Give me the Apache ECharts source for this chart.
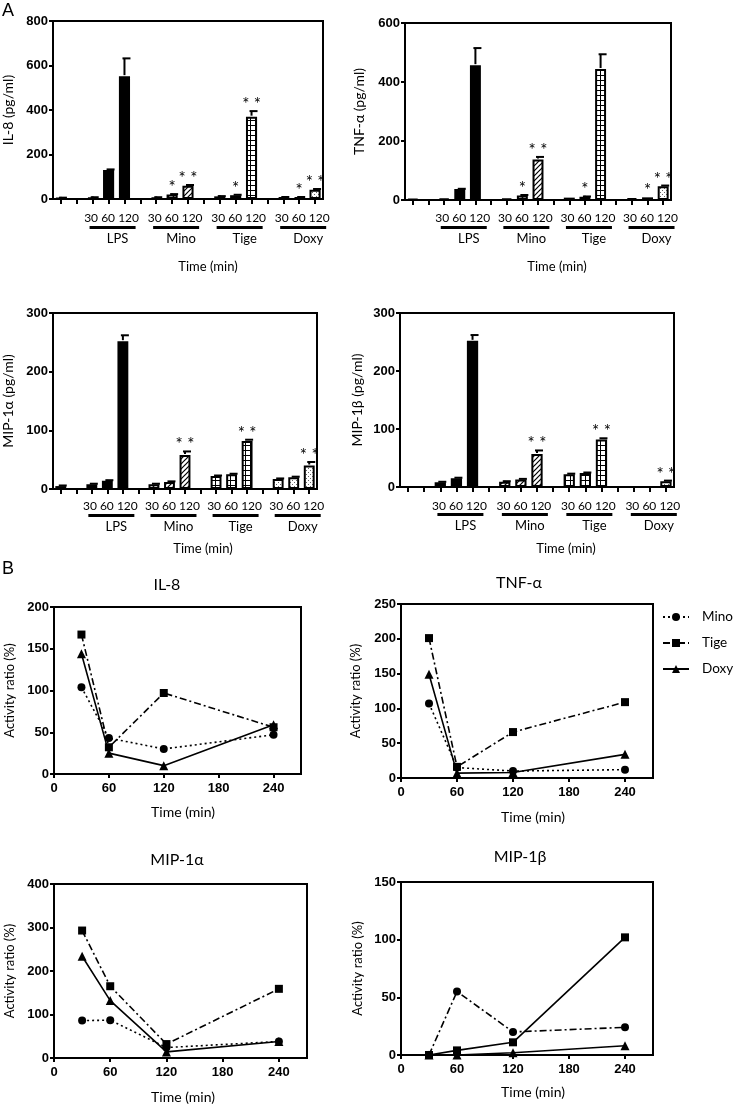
<!DOCTYPE html>
<html><head><meta charset="utf-8">
<script src="https://cdn.jsdelivr.net/npm/echarts@6/dist/echarts.min.js"></script>
<style>html,body{margin:0;padding:0;background:#fff}#c{width:734px;height:1104px}</style>
</head><body><div id="c"></div>
<script>
// ---------- Panel A: bar charts ----------
const categories = ['Ctrl','gap1','LPS-30','LPS-60','LPS-120','gap2','Mino-30','Mino-60','Mino-120','gap3','Tige-30','Tige-60','Tige-120','gap4','Doxy-30','Doxy-60','Doxy-120'];
const timeLabelRow = '30 60 120';
const groupLabels = ['','','','LPS','','','','Mino','','','','Tige','','','','Doxy',''];
const fillKinds = ['solid','','solid','solid','solid','','hatch','hatch','hatch','','grid','grid','grid','','dots','dots','dots'];

const il8Values = [5, null, 7, 130, 552, null, 7, 20, 60, null, 12, 17, 370, null, 8, 8, 42];
const il8Errors = [1, 0, 1, 3, 80, 0, 1, 2, 3, 0, 1, 2, 25, 0, 1, 1, 3];
const il8Stars  = ['','','','','','','','*','**','','','*','**','','','*','**'];

const tnfValues = [4, null, 5, 37, 457, null, 5, 15, 137, null, 8, 11, 444, null, 6, 9, 47];
const tnfErrors = [0, 0, 0, 1, 58, 0, 0, 2, 9, 0, 0, 1, 50, 0, 0, 0, 2];
const tnfStars  = ['','','','','','','','*','**','','','*','','','','*','**'];

const mip1aValues = [5, null, 8, 14, 252, null, 8, 12, 58, null, 22, 25, 82, null, 17, 20, 40];
const mip1aErrors = [1, 0, 1, 1, 10, 0, 1, 1, 6, 0, 1, 1, 2, 0, 1, 1, 6];
const mip1aStars  = ['','','','','','','','','**','','','','**','','','','**'];

const mip1bValues = [null, null, 8, 15, 252, null, 9, 13, 57, null, 22, 24, 82, null, 0, 0, 10];
const mip1bErrors = [0, 0, 1, 1, 10, 0, 1, 1, 6, 0, 1, 1, 2, 0, 0, 0, 1];
const mip1bStars  = ['','','','','','','','','**','','','','**','','','','**'];

// ---------- Panel B: activity ratio ----------
const times = [30, 60, 120, 240];
const timeTicks = [0, 60, 120, 180, 240];

const il8Mino = [104, 43, 30, 47];
const il8Tige = [167, 32, 97, 56];
const il8Doxy = [144, 25, 10, 59];

const tnfMino = [107, 15, 10, 12];
const tnfTige = [201, 16, 66, 109];
const tnfDoxy = [149, 7, 8, 34];

const mip1aMino = [86, 87, 24, 38];
const mip1aTige = [293, 165, 32, 159];
const mip1aDoxy = [234, 132, 14, 38];

const mip1bMino = [0, 55, 20, 24];
const mip1bTige = [0, 4, 11, 102];
const mip1bDoxy = [0, 0, 2, 8];

// ---------- styling ----------
const SANS = 'Lato, "Open Sans", sans-serif';
const BOLD = '"Liberation Sans", Arial, sans-serif';

function makeCanvas(w, h, draw) {
  const c = document.createElement('canvas'); c.width = w; c.height = h;
  const ctx = c.getContext('2d'); ctx.fillStyle = '#fff'; ctx.fillRect(0, 0, w, h);
  draw(ctx); return c;
}
const fills = {
  solid: '#000',
  hatch: { image: makeCanvas(5, 5, ctx => {
    ctx.strokeStyle = '#000'; ctx.lineWidth = 1.2;
    ctx.beginPath(); ctx.moveTo(-1, 6); ctx.lineTo(6, -1); ctx.stroke();
    ctx.beginPath(); ctx.moveTo(-1, 1); ctx.lineTo(1, -1); ctx.stroke();
    ctx.beginPath(); ctx.moveTo(4, 6); ctx.lineTo(6, 4); ctx.stroke();
  }), repeat: 'repeat' },
  grid: { image: makeCanvas(5, 5, ctx => {
    ctx.fillStyle = '#000'; ctx.fillRect(0, 0, 5, 1); ctx.fillRect(0, 0, 1, 5);
  }), repeat: 'repeat' },
  dots: { image: makeCanvas(4, 4, ctx => {
    ctx.fillStyle = '#666'; ctx.fillRect(0, 0, 1, 1); ctx.fillRect(2, 2, 1, 1);
  }), repeat: 'repeat' }
};

const barGrids = [
  { left: 53, top: 21, width: 270, height: 178 },
  { left: 405, top: 23, width: 266, height: 177 },
  { left: 53, top: 313, width: 264, height: 176 },
  { left: 400, top: 313, width: 274, height: 174 }
];
const lineGrids = [
  { left: 54, top: 607, width: 247, height: 167 },
  { left: 401, top: 604, width: 252, height: 174 },
  { left: 54, top: 884, width: 253, height: 174 },
  { left: 401, top: 882, width: 252, height: 173 }
];

const grids = barGrids.concat(lineGrids).map(g => Object.assign({
  show: true, borderColor: '#000', borderWidth: 2, backgroundColor: 'transparent', containLabel: false
}, g));

function yAx(grid, max, interval, name, gap) {
  return {
    type: 'value', gridIndex: grid, min: 0, max, interval, name, nameLocation: 'middle', nameGap: gap,
    nameTextStyle: { fontFamily: SANS, fontSize: 14, color: '#000' },
    axisLine: { show: true, lineStyle: { color: '#000', width: 2 } },
    axisTick: { show: true, length: 4, lineStyle: { color: '#000', width: 2 } },
    axisLabel: { margin: 5, fontFamily: BOLD, fontWeight: 'bold', fontSize: 13, color: '#000' },
    splitLine: { show: false }
  };
}
function catAx(grid, margin) {
  return {
    type: 'category', gridIndex: grid, data: categories, boundaryGap: true,
    axisLine: { show: true, onZero: false, lineStyle: { color: '#000', width: 2 } },
    axisTick: { show: true, alignWithLabel: true, interval: 0, length: 5, lineStyle: { color: '#000', width: 2 } },
    axisLabel: { interval: 0, margin, padding: [0, 0, 0, 6], formatter: (v, i) => groupLabels[i] ? timeLabelRow : '',
      fontFamily: SANS, fontSize: 12, color: '#000' }
  };
}
function grpAx(grid, margin) {
  return {
    type: 'category', gridIndex: grid, data: categories, position: 'bottom', boundaryGap: true,
    axisLine: { show: false }, axisTick: { show: false },
    axisLabel: {
      interval: 0, margin, padding: [0, 0, 0, 8],
      formatter: (v, i) => groupLabels[i] ? '{u| }\n{g|' + groupLabels[i] + '}' : '',
      rich: {
        u: { width: 46, height: 3, lineHeight: 3, backgroundColor: '#000' },
        g: { fontFamily: SANS, fontSize: 13, lineHeight: 20, color: '#000', padding: [0, 0, 0, 10] }
      }
    }
  };
}
function timeAx(grid) {
  return {
    type: 'value', gridIndex: grid, min: 0, max: 270, interval: 60,
    axisLine: { show: true, onZero: false, lineStyle: { color: '#000', width: 2 } },
    axisTick: { show: true, length: 4, customValues: timeTicks, lineStyle: { color: '#000', width: 2 } },
    axisLabel: { margin: 8, customValues: timeTicks, fontFamily: BOLD, fontWeight: 'bold', fontSize: 13, color: '#000' },
    splitLine: { show: false }
  };
}

function barSeries(g, values) {
  return {
    type: 'bar', xAxisIndex: g * 2, yAxisIndex: g, barWidth: '70%', silent: true,
    data: values.map((v, i) => v == null ? '-' : {
      value: v, itemStyle: { color: fills[fillKinds[i]], borderColor: '#000', borderWidth: 2 }
    })
  };
}
function errSeries(g, values, errors, stars) {
  const data = [];
  values.forEach((v, i) => { if (v != null) data.push([i, v, errors[i]]); });
  return {
    type: 'custom', xAxisIndex: g * 2, yAxisIndex: g, silent: true, z: 5, data,
    encode: { x: 0, y: 1 },
    renderItem: (params, api) => {
      const i = api.value(0), v = api.value(1), e = api.value(2);
      const base = api.coord([i, v]);
      const top = api.coord([i, v + e]);
      const children = [];
      if (e > 0) {
        children.push({ type: 'line', shape: { x1: base[0], y1: base[1] - 1, x2: top[0], y2: top[1] }, style: { stroke: '#000', lineWidth: 2 } });
        children.push({ type: 'line', shape: { x1: top[0] - 2, y1: top[1], x2: top[0] + 6, y2: top[1] }, style: { stroke: '#000', lineWidth: 2 } });
      }
      const s = stars[i];
      if (s) children.push({ type: 'text', x: top[0], y: top[1] + 2, style: { text: s.split('').join(' '), align: 'center', verticalAlign: 'bottom', font: '17px Lato, sans-serif', fill: '#000' } });
      return { type: 'group', children };
    }
  };
}

const SYM = { Mino: 'circle', Tige: 'rect', Doxy: 'triangle' };
const DASH = { dot: [2, 3], dashdot: [7, 3, 2, 3], solid: 'solid' };
function lineSeries(g, name, vals, dash) {
  return {
    type: 'line', name, xAxisIndex: 8 + (g - 4), yAxisIndex: g, silent: true,
    data: times.map((t, i) => [t, vals[i]]),
    symbol: SYM[name], symbolSize: name === 'Doxy' ? 9 : 8, showSymbol: true,
    itemStyle: { color: '#000' },
    lineStyle: { color: '#000', width: 1.6, type: DASH[dash] }
  };
}

const xAxes = [
  catAx(0, 13), grpAx(0, 27),
  catAx(1, 12), grpAx(1, 26),
  catAx(2, 11), grpAx(2, 25),
  catAx(3, 13), grpAx(3, 26),
  timeAx(4), timeAx(5), timeAx(6), timeAx(7)
];
const yAxes = [
  yAx(0, 800, 200, 'IL-8 (pg/ml)', 38),
  yAx(1, 600, 200, 'TNF-α (pg/ml)', 39),
  yAx(2, 300, 100, 'MIP-1α (pg/ml)', 38),
  yAx(3, 300, 100, 'MIP-1β (pg/ml)', 36),
  yAx(4, 200, 50, 'Activity ratio (%)', 38),
  yAx(5, 250, 50, 'Activity ratio (%)', 39),
  yAx(6, 400, 100, 'Activity ratio (%)', 38),
  yAx(7, 150, 50, 'Activity ratio (%)', 37)
];
yAxes.slice(4).forEach(a => { a.nameTextStyle.fontSize = 13; });

const series = [
  barSeries(0, il8Values), errSeries(0, il8Values, il8Errors, il8Stars),
  barSeries(1, tnfValues), errSeries(1, tnfValues, tnfErrors, tnfStars),
  barSeries(2, mip1aValues), errSeries(2, mip1aValues, mip1aErrors, mip1aStars),
  barSeries(3, mip1bValues), errSeries(3, mip1bValues, mip1bErrors, mip1bStars),
  lineSeries(4, 'Mino', il8Mino, 'dot'), lineSeries(4, 'Tige', il8Tige, 'dashdot'), lineSeries(4, 'Doxy', il8Doxy, 'solid'),
  lineSeries(5, 'Mino', tnfMino, 'dot'), lineSeries(5, 'Tige', tnfTige, 'dashdot'), lineSeries(5, 'Doxy', tnfDoxy, 'solid'),
  lineSeries(6, 'Mino', mip1aMino, 'dot'), lineSeries(6, 'Tige', mip1aTige, 'dashdot'), lineSeries(6, 'Doxy', mip1aDoxy, 'solid'),
  lineSeries(7, 'Mino', mip1bMino, 'dashdot'), lineSeries(7, 'Tige', mip1bTige, 'solid'), lineSeries(7, 'Doxy', mip1bDoxy, 'solid')
];

function txt(text, x, y, size, family, align) {
  return { type: 'text', x, y, silent: true, style: { text, fill: '#000', font: size + 'px ' + (family || SANS), align: align || 'center', verticalAlign: 'middle' } };
}
const graphics = [
  { type: 'text', x: 2, y: 2, style: { text: 'A', fill: '#000', font: '18px ' + BOLD, align: 'left', verticalAlign: 'top' } },
  { type: 'text', x: 2, y: 560, style: { text: 'B', fill: '#000', font: '18px ' + BOLD, align: 'left', verticalAlign: 'top' } },
  txt('Time (min)', 208, 267, 13), txt('Time (min)', 557, 267, 13),
  txt('Time (min)', 203, 549, 13), txt('Time (min)', 566, 549, 13),
  txt('IL-8', 167, 585, 16), txt('TNF-α', 519, 583, 16),
  txt('MIP-1α', 177, 860, 16), txt('MIP-1β', 520, 857, 16),
  txt('Time (min)', 183, 812, 14), txt('Time (min)', 533, 817, 14),
  txt('Time (min)', 183, 1097, 14), txt('Time (min)', 533, 1092, 14)
];

const chart = echarts.init(document.getElementById('c'), null, { renderer: 'canvas' });
chart.setOption({
  animation: false,
  backgroundColor: '#fff',
  grid: grids,
  xAxis: xAxes,
  yAxis: yAxes,
  series,
  legend: {
    data: ['Mino', 'Tige', 'Doxy'], orient: 'vertical', left: 662, top: 610, padding: 0,
    itemWidth: 26, itemHeight: 10, itemGap: 12, selectedMode: false,
    textStyle: { fontFamily: SANS, fontSize: 13.5, color: '#000', padding: [0, 0, 0, 8] }
  },
  graphic: graphics
});
</script></body></html>
